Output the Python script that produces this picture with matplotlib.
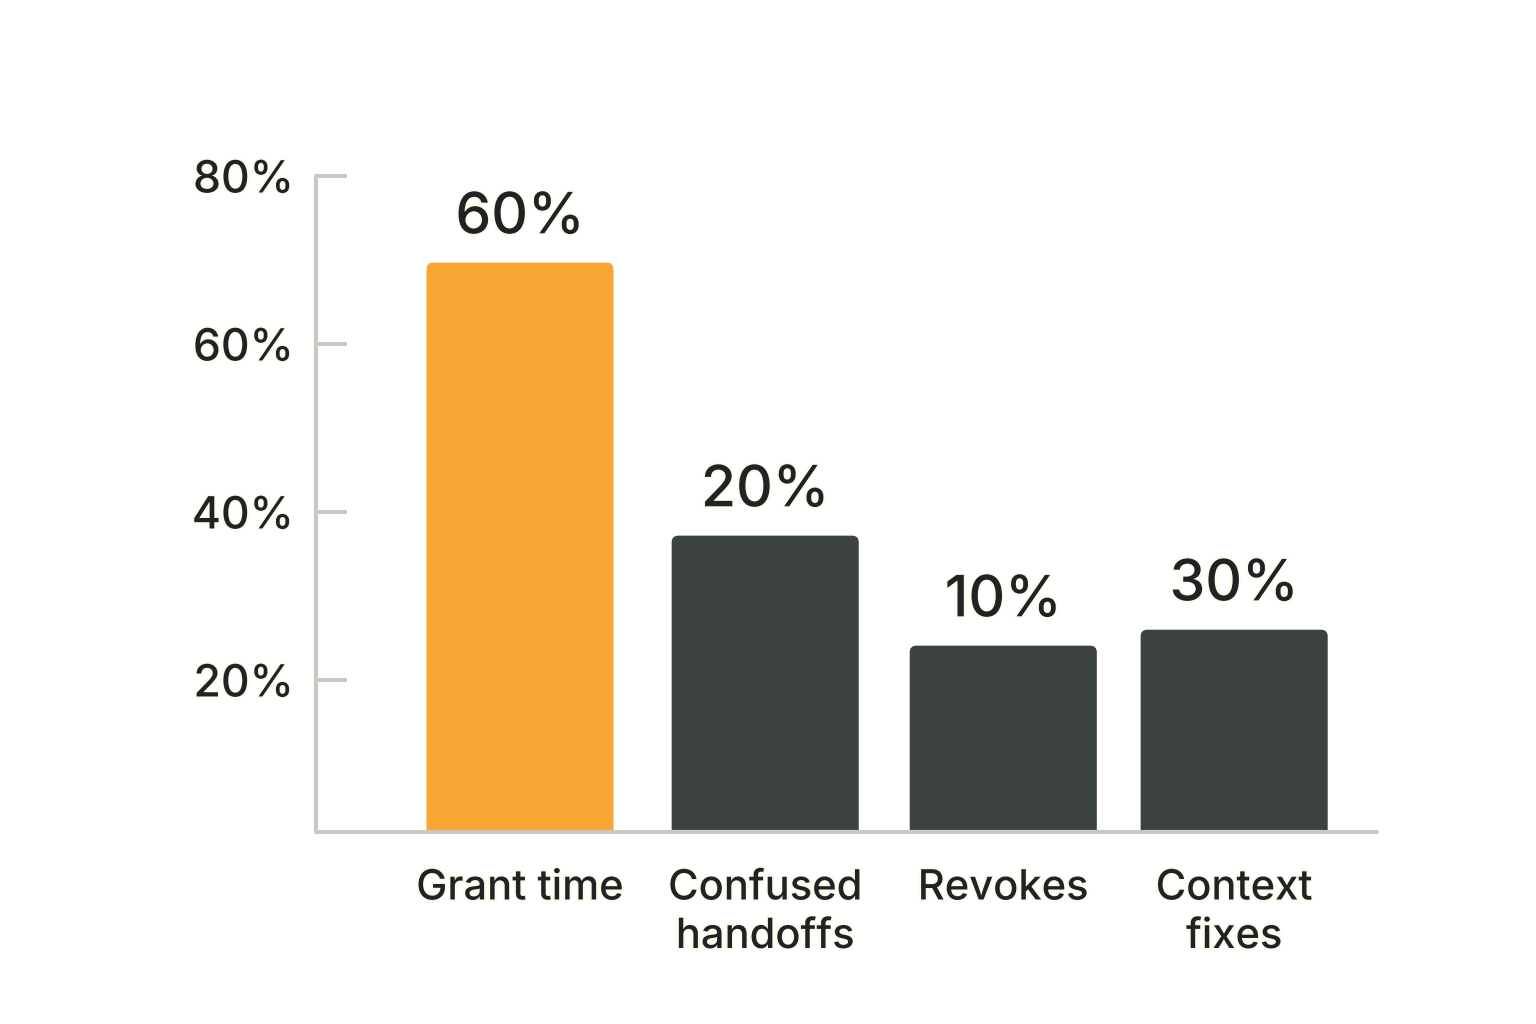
import matplotlib
matplotlib.use("Agg")
import matplotlib.pyplot as plt
import matplotlib.patheffects as pe
from matplotlib.patches import FancyBboxPatch

# -- Data ---------------------------------------------------------------------
categories = ["Grant time", "Confused\nhandoffs", "Revokes", "Context\nfixes"]
bar_heights = [69.6, 37.1, 24.0, 25.9]      # as drawn against the y axis
value_labels = ["60%", "20%", "10%", "30%"]  # as printed above the bars
y_ticks = [20, 40, 60, 80]
y_tick_labels = ["20%", "40%", "60%", "80%"]

# -- Style --------------------------------------------------------------------
ORANGE = "#F9A634"
DARK = "#3C4240"
AXIS = "#C9C9C1"
TEXT = "#1E2426"
HALO = [pe.withStroke(linewidth=3, foreground="#FFFBEA")]

plt.rcParams["font.family"] = ["Inter", "DejaVu Sans"]
plt.rcParams["font.weight"] = "medium"

fig = plt.figure(figsize=(15.36, 10.24), dpi=100)
fig.patch.set_facecolor("white")
ax = fig.add_axes([316 / 1536, 1 - 832 / 1024, (1377 - 316) / 1536,
                   (832 - 176) / 1024])

x = [0, 1.03, 2.03, 3.0]
colors = [ORANGE] + [DARK] * (len(categories) - 1)
bars = ax.bar(x, bar_heights, width=0.78, color=colors, zorder=2)

# swap the plain rectangles for ones with slightly rounded corners
for b, c in zip(bars, colors):
    rounded = FancyBboxPatch((b.get_x(), b.get_y()), b.get_width(),
                             b.get_height(),
                             boxstyle="round,pad=0,rounding_size=0.025",
                             mutation_aspect=28, facecolor=c, edgecolor=c,
                             linewidth=1, zorder=2)
    ax.add_patch(rounded)
    b.remove()

for xi, h, lab in zip(x, bar_heights, value_labels):
    ax.annotate(lab, (xi, h), xytext=(0, 13), textcoords="offset points",
                ha="center", va="bottom", fontsize=41, color=TEXT,
                path_effects=HALO)

ax.set_xlim(-0.857, 3.6)
ax.set_ylim(1.9, 80)

ax.set_yticks(y_ticks)
ax.set_yticklabels(y_tick_labels, fontsize=32, color=TEXT)
ax.set_xticks(x)
ax.set_xticklabels(categories, fontsize=30, color=TEXT, linespacing=1.35)
for t in ax.get_xticklabels() + ax.get_yticklabels():
    t.set_path_effects(HALO)

ax.tick_params(axis="y", direction="in", length=22, width=3, color=AXIS,
               pad=16)
ax.tick_params(axis="x", length=0, pad=27)

for side in ["top", "right"]:
    ax.spines[side].set_visible(False)
for side in ["left", "bottom"]:
    ax.spines[side].set_color(AXIS)
    ax.spines[side].set_linewidth(3)
    ax.spines[side].set_capstyle("round")
    ax.spines[side].set_zorder(3)

fig.savefig("out.png", dpi=100, facecolor="white")
